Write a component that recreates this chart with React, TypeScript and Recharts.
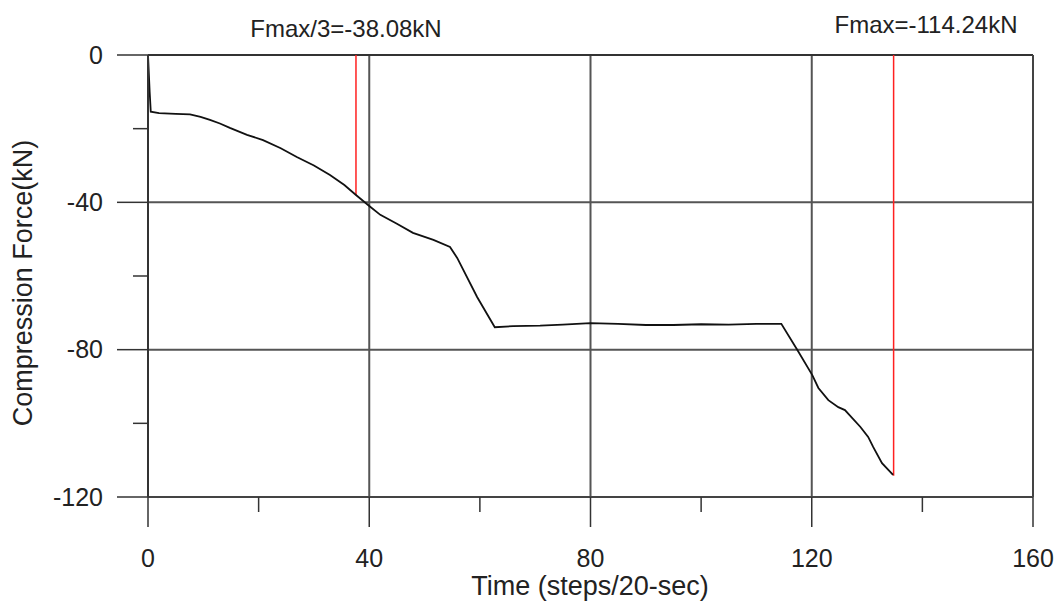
import React from 'react';
import { LineChart, Line, XAxis, YAxis, ReferenceLine } from 'recharts';

// time steps (20 s each) and compression force in kN
const timeSteps = [
  0, 0.3, 0.5, 2, 5, 7.6, 9.5, 11.2, 13, 14.8, 17.9, 20.8, 24, 26.9, 30, 32.9, 35.5, 37.6, 40,
  42, 45, 47.9, 51.6, 54.6, 55.9, 59.5, 62.7, 66, 70.9, 75, 80, 85, 90, 95, 100, 105, 110, 114.5,
  117.4, 120.1, 121.2, 123, 124.8, 126, 128.8, 130.2, 131.1, 132.7, 134.7,
];
const forceKN = [
  0, -10, -15.4, -15.8, -16.0, -16.1, -16.8, -17.6, -18.6, -19.8, -21.7, -23.1, -25.3, -27.7, -30.0, -32.6, -35.3, -38.0, -41.0,
  -43.4, -45.8, -48.3, -50.2, -52.1, -55.1, -65.7, -73.9, -73.6, -73.5, -73.2, -72.8, -73.0, -73.3, -73.3, -73.1, -73.2, -73.0, -73.0,
  -80.1, -86.9, -90.4, -93.7, -95.6, -96.4, -101.0, -103.7, -106.4, -110.8, -114.0,
];

const xTicks = [0, 20, 40, 60, 80, 100, 120, 140, 160];
const yTicks = [-120, -100, -80, -60, -40, -20, 0];
const gridX = [40, 80, 120];
const gridY = [-40, -80];

const fmaxThirdX = 37.6;
const fmaxThird = -38.08;
const fmaxX = 134.8;
const fmax = -114.24;

const data = timeSteps.map((t, i) => ({ t, f: forceKN[i] }));

const FONT = '"Liberation Sans", Arial, sans-serif';

function XTick(props: any) {
  const { x, y, payload } = props;
  const major = payload.value % 40 === 0;
  return (
    <g>
      <line x1={x} y1={y} x2={x} y2={y + (major ? 30 : 15)} stroke="#333" strokeWidth={1.5} />
      {major && (
        <text x={x} y={y + 70} textAnchor="middle" fontSize={25} fontFamily={FONT} fill="#222">
          {payload.value}
        </text>
      )}
    </g>
  );
}

function YTick(props: any) {
  const { x, y, payload } = props;
  const major = payload.value % 40 === 0;
  return (
    <g>
      <line x1={x - (major ? 31 : 15)} y1={y} x2={x} y2={y} stroke="#333" strokeWidth={1.5} />
      {major && (
        <text x={x - 45} y={y + 8.5} textAnchor="end" fontSize={25} fontFamily={FONT} fill="#222">
          {payload.value}
        </text>
      )}
    </g>
  );
}

export default function App() {
  return (
    <div style={{ position: 'absolute', left: 0, top: 0, width: 1060, height: 607, background: '#fff' }}>
      <LineChart width={1060} height={607} data={data} margin={{ top: 55, right: 27, bottom: 50, left: 88 }}>
        <XAxis
          dataKey="t"
          type="number"
          domain={[0, 160]}
          ticks={xTicks}
          height={60}
          tickSize={0}
          tickMargin={0}
          tickLine={false}
          tick={<XTick />}
          stroke="#444"
          strokeWidth={2}
          interval={0}
        />
        <YAxis
          type="number"
          domain={[-120, 0]}
          ticks={yTicks}
          width={60}
          tickSize={0}
          tickMargin={0}
          tickLine={false}
          tick={<YTick />}
          stroke="#333"
          strokeWidth={2}
          interval={0}
        />
        {gridX.map((v) => (
          <ReferenceLine key={`gx${v}`} x={v} stroke="#555" strokeWidth={2} />
        ))}
        {gridY.map((v) => (
          <ReferenceLine key={`gy${v}`} y={v} stroke="#555" strokeWidth={2} />
        ))}
        <ReferenceLine y={0} stroke="#333" strokeWidth={2} />
        <ReferenceLine x={160} stroke="#444" strokeWidth={2} />
        <ReferenceLine
          segment={[{ x: fmaxThirdX, y: 0 }, { x: fmaxThirdX, y: fmaxThird }]}
          stroke="#ff2020"
          strokeWidth={1.5}
        />
        <ReferenceLine
          segment={[{ x: fmaxX, y: 0 }, { x: fmaxX, y: fmax }]}
          stroke="#ff2020"
          strokeWidth={1.5}
        />
        <Line
          type="linear"
          dataKey="f"
          stroke="#111"
          strokeWidth={1.8}
          dot={false}
          isAnimationActive={false}
        />
      </LineChart>
      <svg width={1060} height={607} style={{ position: 'absolute', left: 0, top: 0, pointerEvents: 'none' }}>
        <text x={346} y={37} textAnchor="middle" fontSize={24} fontFamily={FONT} fill="#222">
          Fmax/3=-38.08kN
        </text>
        <text x={926} y={33} textAnchor="middle" fontSize={24} fontFamily={FONT} fill="#222">
          Fmax=-114.24kN
        </text>
        <text x={590} y={595} textAnchor="middle" fontSize={27} fontFamily={FONT} fill="#222">
          Time (steps/20-sec)
        </text>
        <text
          x={32}
          y={283}
          textAnchor="middle"
          fontSize={27}
          fontFamily={FONT}
          fill="#222"
          transform="rotate(-90 32 283)"
        >
          Compression Force(kN)
        </text>
      </svg>
    </div>
  );
}
